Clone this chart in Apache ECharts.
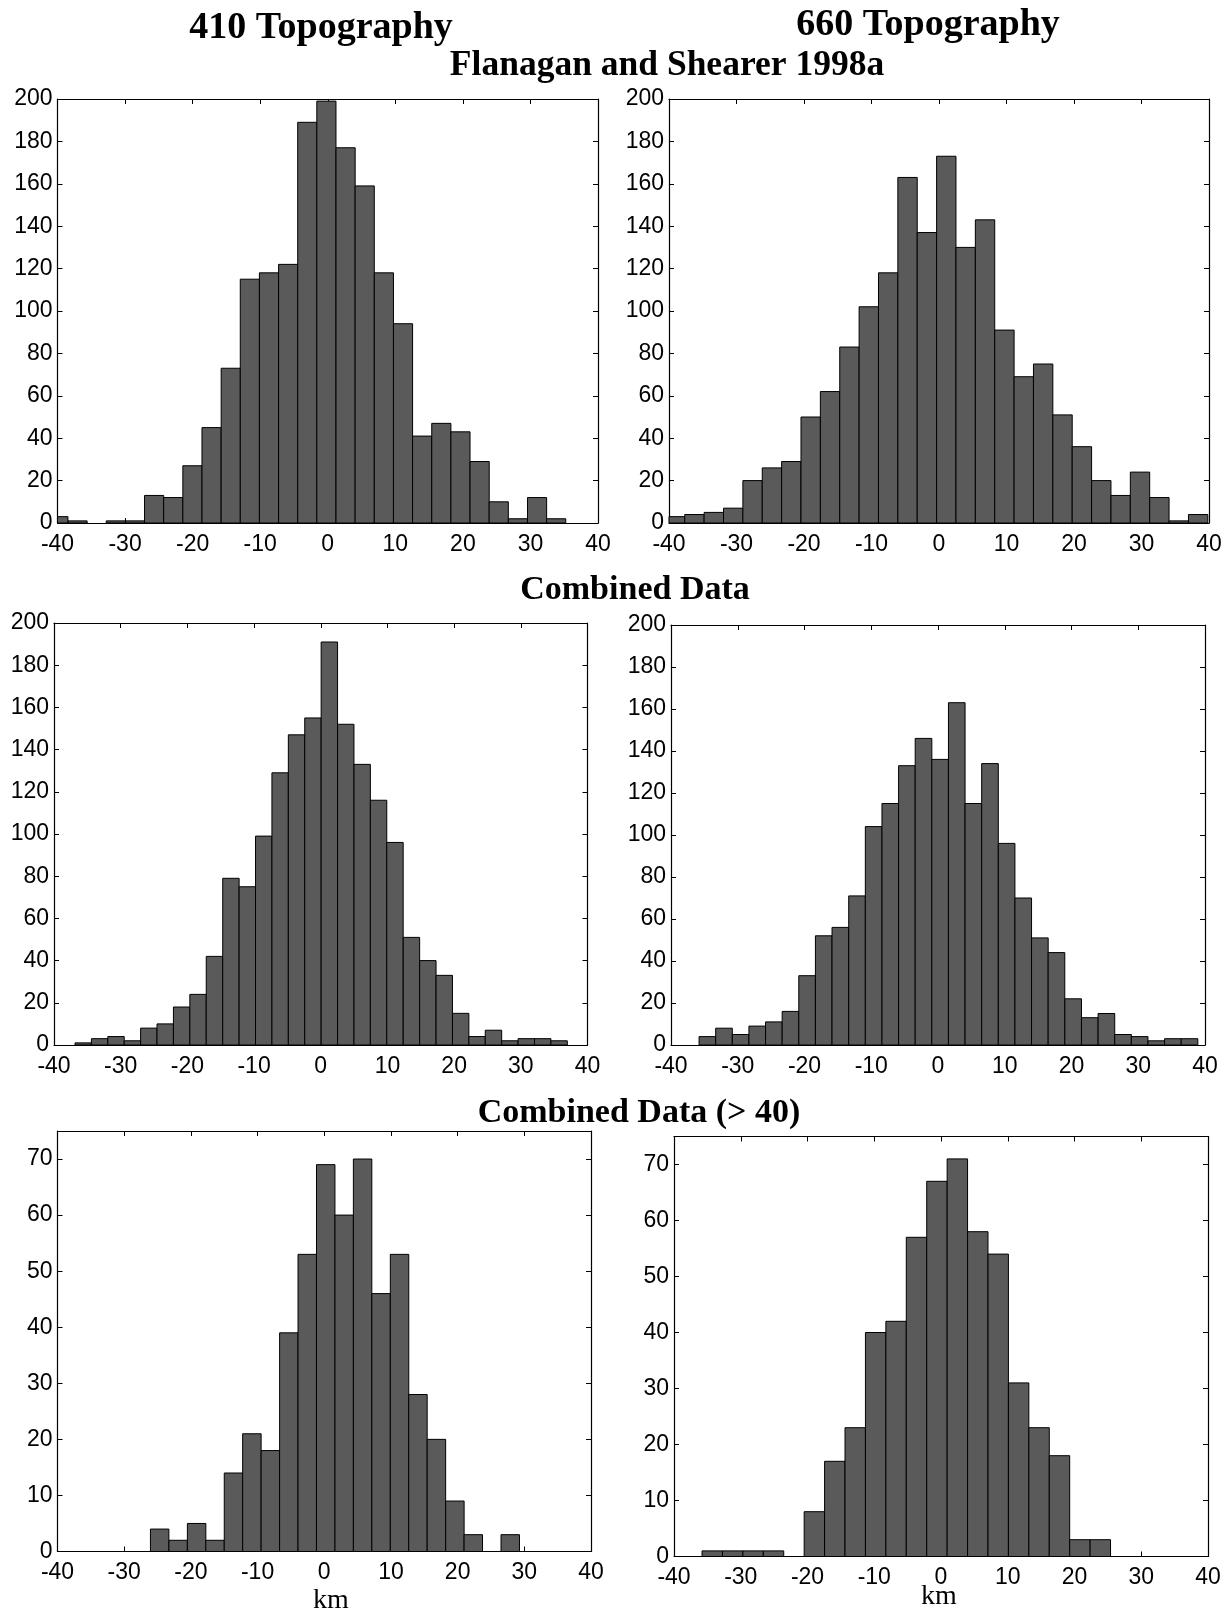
<!DOCTYPE html>
<html><head><meta charset="utf-8">
<script src="https://cdn.jsdelivr.net/npm/echarts@6/dist/echarts.min.js"></script>
<style>html,body{margin:0;padding:0;background:#fff}#c{width:1229px;height:1613px}</style>
</head><body><div id="c"></div>
<script>
// ---------- DATA ----------
// Flanagan and Shearer 1998a, 410 topography
const fs410Centers = [-39.87,-37.03,-34.20,-31.37,-28.53,-25.70,-22.87,-20.03,-17.20,-14.36,-11.53,-8.70,-5.86,-3.03,-0.20,2.64,5.47,8.31,11.14,13.97,16.81,19.64,22.48,25.31,28.14,30.98,33.81];
const fs410Counts  = [3,1,0,1,1,13,12,27,45,73,115,118,122,189,199,177,159,118,94,41,47,43,29,10,2,12,2];
const fs410BinWidth = 2.834;
// Flanagan and Shearer 1998a, 660 topography
const fs660Centers = [-39.10,-36.23,-33.36,-30.49,-27.62,-24.75,-21.88,-19.01,-16.14,-13.27,-10.40,-7.53,-4.66,-1.79,1.08,3.95,6.82,9.69,12.56,15.43,18.30,21.17,24.04,26.91,29.78,32.65,35.52,38.39];
const fs660Counts  = [3,4,5,7,20,26,29,50,62,83,102,118,163,137,173,130,143,91,69,75,51,36,20,13,24,12,1,4];
const fs660BinWidth = 2.870;
// Combined data, 410
const cb410Centers = [-35.62,-33.16,-30.70,-28.24,-25.78,-23.32,-20.86,-18.40,-15.94,-13.47,-11.01,-8.55,-6.09,-3.63,-1.17,1.29,3.75,6.21,8.67,11.13,13.60,16.06,18.52,20.98,23.44,25.90,28.36,30.82,33.28,35.74];
const cb410Counts  = [1,3,4,2,8,10,18,24,42,79,75,99,129,147,155,191,152,133,116,96,51,40,33,15,4,7,2,3,3,2];
const cb410BinWidth = 2.461;
// Combined data, 660
const cb660Centers = [-34.55,-32.06,-29.57,-27.08,-24.59,-22.10,-19.61,-17.12,-14.63,-12.13,-9.64,-7.15,-4.66,-2.17,0.32,2.81,5.30,7.79,10.28,12.77,15.26,17.75,20.25,22.74,25.23,27.72,30.21,32.70,35.19,37.68];
const cb660Counts  = [4,8,5,9,11,16,33,52,56,71,104,115,133,146,136,163,115,134,96,70,51,44,22,13,15,5,4,2,3,3];
const cb660BinWidth = 2.491;
// Combined data (> 40), 410
const gt410Centers = [-24.68,-21.91,-19.14,-16.38,-13.61,-10.85,-8.08,-5.31,-2.55,0.22,2.99,5.75,8.52,11.29,14.05,16.82,19.59,22.35,25.12,27.89];
const gt410Counts  = [4,2,5,2,14,21,18,39,53,69,60,70,46,53,28,20,9,3,0,3];
const gt410BinWidth = 2.767;
// Combined data (> 40), 660
const gt660Centers = [-34.27,-31.21,-28.15,-25.09,-22.03,-18.97,-15.91,-12.85,-9.79,-6.73,-3.67,-0.61,2.45,5.51,8.57,11.63,14.69,17.75,20.81,23.87];
const gt660Counts  = [1,1,1,1,0,8,17,23,40,42,57,67,71,58,54,31,23,18,3,3];
const gt660BinWidth = 3.06;

const columnTitles = ['410 Topography', '660 Topography'];
const rowTitles = ['Flanagan and Shearer 1998a', 'Combined Data', 'Combined Data (> 40)'];
const xAxisName = 'km';
const xMin = -40, xMax = 40, xStep = 10;
const yMaxTop = 200, yStepTop = 20;
const yMaxBottom = 75, yStepBottom = 10;

// ---------- LAYOUT ----------
const panels = [
  {c: fs410Centers, n: fs410Counts, w: fs410BinWidth, yMax: yMaxTop, yStep: yStepTop, g:{left:57.5, top:99, width:540.5, height:424}},
  {c: fs660Centers, n: fs660Counts, w: fs660BinWidth, yMax: yMaxTop, yStep: yStepTop, g:{left:669, top:99, width:540, height:424}},
  {c: cb410Centers, n: cb410Counts, w: cb410BinWidth, yMax: yMaxTop, yStep: yStepTop, g:{left:54, top:623, width:533.5, height:422}},
  {c: cb660Centers, n: cb660Counts, w: cb660BinWidth, yMax: yMaxTop, yStep: yStepTop, g:{left:671, top:625, width:534, height:420}},
  {c: gt410Centers, n: gt410Counts, w: gt410BinWidth, yMax: yMaxBottom, yStep: yStepBottom, g:{left:57.5, top:1131, width:533.5, height:420.5}},
  {c: gt660Centers, n: gt660Counts, w: gt660BinWidth, yMax: yMaxBottom, yStep: yStepBottom, g:{left:674, top:1136.5, width:534, height:420}}
];

const lineStyle = {color:'#000', width:1.2};
const tickStyle = {show:true, inside:true, length:5, lineStyle:{color:'#000', width:1}};
const labelFont = {color:'#000', fontSize:23, fontFamily:'Liberation Sans, Arial, sans-serif'};

const grid = [], xAxis = [], yAxis = [], series = [];

function renderBar(params, api) {
  const c = api.value(0), h = api.value(1), w = api.value(2);
  const p0 = api.coord([c - w / 2, h]);
  const p1 = api.coord([c + w / 2, 0]);
  const rect = {x: p0[0], y: p0[1], width: p1[0] - p0[0], height: p1[1] - p0[1]};
  const cs = params.coordSys;
  const clipped = echarts.graphic.clipRectByRect(rect, {x: cs.x, y: cs.y, width: cs.width, height: cs.height});
  if (!clipped || h <= 0) return null;
  return {type:'rect', shape: clipped, style: {fill:'#5a5a5a', stroke:'#000', lineWidth:1}};
}

panels.forEach((p, i) => {
  grid.push(Object.assign({containLabel:false}, p.g));
  const xBase = {type:'value', gridIndex:i, min:xMin, max:xMax, interval:xStep,
    axisLine:{show:true, onZero:false, lineStyle}, axisTick:tickStyle, splitLine:{show:false}};
  xAxis.push(Object.assign({}, xBase, {position:'bottom', axisLabel:Object.assign({margin:10}, labelFont)}));
  xAxis.push(Object.assign({}, xBase, {position:'top', axisLabel:{show:false}}));
  const yBase = {type:'value', gridIndex:i, min:0, max:p.yMax, interval:p.yStep,
    axisLine:{show:true, onZero:false, lineStyle}, axisTick:tickStyle, splitLine:{show:false}};
  yAxis.push(Object.assign({}, yBase, {position:'left', axisLabel:Object.assign({margin:5,
    formatter: v => (v % p.yStep === 0 ? String(v) : '')}, labelFont)}));
  yAxis.push(Object.assign({}, yBase, {position:'right', axisLabel:{show:false}}));
  series.push({type:'custom', xAxisIndex:2*i, yAxisIndex:2*i, renderItem: renderBar,
    data: p.c.map((c, j) => [c, p.n[j], p.w]), silent:true, animation:false});
});

const serifBold = 'bold 38px "Liberation Serif", "Times New Roman", serif';
const serifRow = 'bold 34px "Liberation Serif", "Times New Roman", serif';
const serifRow1 = 'bold 35.5px "Liberation Serif", "Times New Roman", serif';
const serifKm = '28px "Liberation Serif", "Times New Roman", serif';
const graphic = [
  {type:'text', x:321, y:28, style:{text:columnTitles[0], font:serifBold, fill:'#000', align:'center', verticalAlign:'middle'}},
  {type:'text', x:928, y:25, style:{text:columnTitles[1], font:serifBold, fill:'#000', align:'center', verticalAlign:'middle'}},
  {type:'text', x:667, y:66, style:{text:rowTitles[0], font:serifRow1, fill:'#000', align:'center', verticalAlign:'middle'}},
  {type:'text', x:635, y:590, style:{text:rowTitles[1], font:serifRow, fill:'#000', align:'center', verticalAlign:'middle'}},
  {type:'text', x:639, y:1113, style:{text:rowTitles[2], font:serifRow, fill:'#000', align:'center', verticalAlign:'middle'}},
  {type:'text', x:331, y:1601, style:{text:xAxisName, font:serifKm, fill:'#000', align:'center', verticalAlign:'middle'}},
  {type:'text', x:939, y:1597, style:{text:xAxisName, font:serifKm, fill:'#000', align:'center', verticalAlign:'middle'}}
];

const chart = echarts.init(document.getElementById('c'), null, {renderer:'canvas'});
chart.setOption({animation:false, backgroundColor:'#fff', grid, xAxis, yAxis, series, graphic});
</script>
</body></html>
